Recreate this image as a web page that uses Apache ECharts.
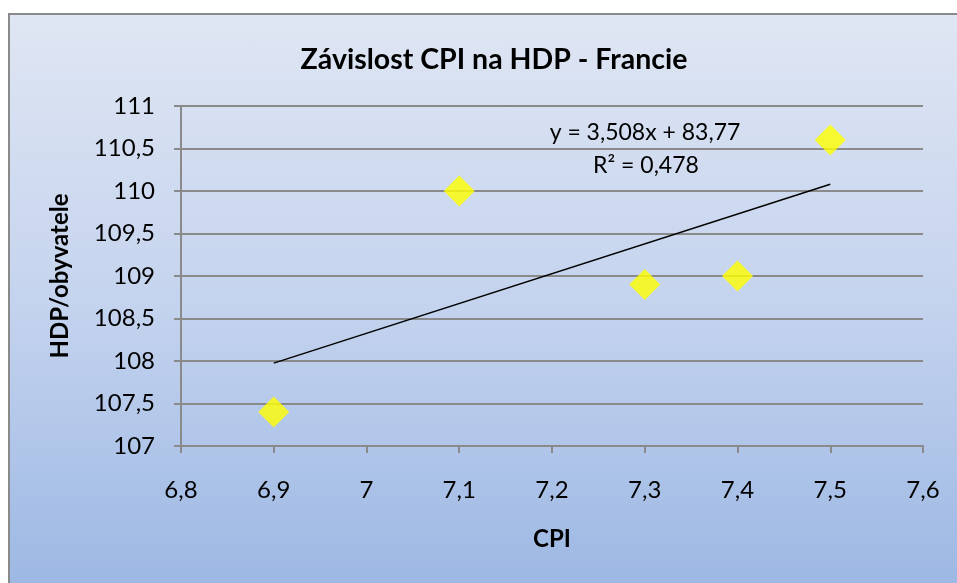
<!doctype html>
<html>
    <head>
        <meta charset="utf-8">
        <title>Závislost CPI na HDP - Francie</title>
        <style>
            body { margin: 0; background: #fff; }
            #frame {
                position: absolute; left: 8px; top: 13px; width: 960px; height: 580px;
                border: 2px solid #8a8a8a;
                background: linear-gradient(to bottom, #dfe6f3 0%, #c4d3ee 50%, #9bb7e3 100%);
            }
            #main { position: absolute; left: 0; top: 0; width: 957px; height: 583px; }
        </style>
    </head>
    <body>
        <div id="frame"></div>
        <div id="main"></div>
        <script src="https://cdn.jsdelivr.net/npm/echarts@6/dist/echarts.min.js"></script>
        <script>
            var cpi = [6.9, 7.1, 7.3, 7.4, 7.5];
            var hdp = [107.4, 110, 108.9, 109, 110.6];
            // linear trendline as printed on the chart
            var trendSlope = 3.508;
            var trendIntercept = 83.77;
            var trendRange = [6.9, 7.5];
            var eqLines = ['y = 3,508x + 83,77', 'R² = 0,478'];

            var FONT = 'Lato, "Open Sans", sans-serif';
            var GRID_COLOR = '#8a8a8a';

            function fmt(v) {
                return String(Math.round(v * 10) / 10).replace('.', ',');
            }

            var points = cpi.map(function (x, i) { return [x, hdp[i]]; });
            var trend = trendRange.map(function (x) { return [x, trendSlope * x + trendIntercept]; });

            var chart = echarts.init(document.getElementById('main'), null, { renderer: 'canvas' });

            chart.setOption({
                backgroundColor: 'transparent',
                animation: false,
                title: {
                    text: 'Závislost CPI na HDP - Francie',
                    left: 489, top: 40, textAlign: 'center',
                    textStyle: { fontFamily: FONT, fontSize: 28.5, fontWeight: 'bold', color: '#000' }
                },
                grid: { left: 181, right: 34, top: 106, bottom: 137 },
                xAxis: {
                    type: 'value', min: 6.8, max: 7.6, interval: 0.1,
                    name: 'CPI', nameLocation: 'middle', nameGap: 81, nameMoveOverlap: false,
                    nameTextStyle: { fontFamily: FONT, fontSize: 24, fontWeight: 'bold', color: '#000' },
                    axisLine: { show: true, lineStyle: { color: GRID_COLOR, width: 2 } },
                    axisTick: { show: true, length: 7, lineStyle: { color: GRID_COLOR, width: 2 } },
                    axisLabel: { margin: 32, fontFamily: FONT, fontSize: 24, color: '#000', formatter: fmt },
                    splitLine: { show: false }
                },
                yAxis: {
                    type: 'value', min: 107, max: 111, interval: 0.5,
                    name: 'HDP/obyvatele', nameLocation: 'middle', nameGap: 109, nameMoveOverlap: false,
                    nameTextStyle: { fontFamily: FONT, fontSize: 24, fontWeight: 'bold', color: '#000' },
                    axisLine: { show: true, lineStyle: { color: GRID_COLOR, width: 2 } },
                    axisTick: { show: true, length: 7, lineStyle: { color: GRID_COLOR, width: 2 } },
                    axisLabel: { margin: 26, fontFamily: FONT, fontSize: 24, color: '#000', formatter: fmt },
                    splitLine: { show: true, lineStyle: { color: GRID_COLOR, width: 2 } }
                },
                series: [{
                    type: 'line',
                    data: trend,
                    showSymbol: false,
                    lineStyle: { color: '#000', width: 1.5 },
                    z: 3
                }, {
                    type: 'scatter',
                    data: points,
                    symbol: 'diamond',
                    symbolSize: 31,
                    itemStyle: { color: '#ffff00' },
                    z: 4
                }],
                graphic: [{
                    type: 'text', x: 645, y: 133,
                    style: { text: eqLines[0], fontFamily: FONT, fontSize: 23, fill: '#000', align: 'center', verticalAlign: 'middle' }
                }, {
                    type: 'text', x: 646, y: 166,
                    style: { text: eqLines[1], fontFamily: FONT, fontSize: 23, fill: '#000', align: 'center', verticalAlign: 'middle' }
                }]
            });

            window.addEventListener('resize', function () {
                chart.resize();
            });
        </script>
    </body>
</html>
